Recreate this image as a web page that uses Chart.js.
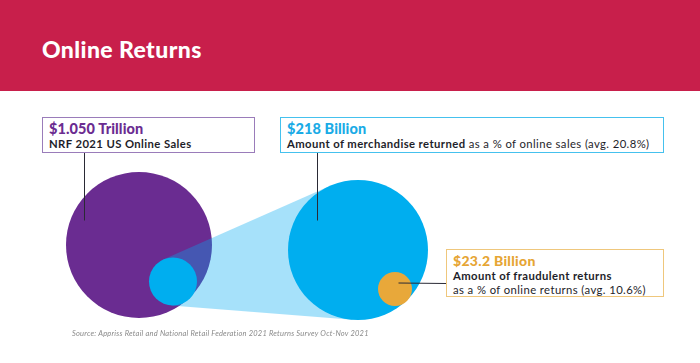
<!DOCTYPE html>
<html>
<head>
<meta charset="utf-8">
<script src="https://cdn.jsdelivr.net/npm/chart.js@4.4.0/dist/chart.umd.min.js"></script>
<style>
    html, body { margin: 0; padding: 0; background: #fff; }
    body { width: 700px; height: 363px; position: relative; overflow: hidden; font-family: Lato, "Open Sans", sans-serif; }
    #header { position: absolute; left: 0; top: 0; width: 700px; height: 91px; background: #c81f4b; }
    #title { position: absolute; left: 42px; top: 35px; color: #fff; font-size: 23px; font-weight: 900; letter-spacing: 0.4px; }
    #chart { position: absolute; left: 0; top: 0; }
    .box { position: absolute; box-sizing: border-box; background: #fff; padding: 2px 0 0 6px; white-space: nowrap; }
    .big { font-size: 14.5px; font-weight: 900; line-height: 17px; letter-spacing: 0.1px; }
    .sub { font-size: 11.3px; color: #1e1e2a; line-height: 14px; letter-spacing: 0.4px; }
    .sub b { font-weight: 700; }
    .src { position: absolute; left: 72px; top: 329px; font-size: 7.5px; font-style: italic; color: #8a8a8a; letter-spacing: 0.22px; }
</style>
</head>
<body>
<div id="header"></div>
<div id="title">Online Returns</div>
<canvas id="chart" width="700" height="363"></canvas>

<div class="box" id="box0" style="left:42px; top:117px; width:213px; height:36px; border:1.5px solid #9a7cba;">
    <div class="big" style="color:#6b2c91;"></div>
    <div class="sub"><b></b></div>
</div>
<div class="box" id="box1" style="left:280px; top:117px; width:384px; height:36px; border:1.5px solid #45c1ee;">
    <div class="big" style="color:#1aabe6;"></div>
    <div class="sub"><b></b> <span></span></div>
</div>
<div class="box" id="box2" style="left:446px; top:249px; width:218px; height:48px; border:1.5px solid #efc77c;">
    <div class="big" style="color:#e6a534; font-size:14px; letter-spacing:0.3px;"></div>
    <div class="sub" style="line-height:13.5px;"><b></b><br><span></span></div>
</div>
<div class="src">Source: Appriss Retail and National Retail Federation 2021 Returns Survey Oct-Nov 2021</div>

<script>
// Data
const categories = ['NRF 2021 US Online Sales', 'Amount of merchandise returned', 'Amount of fraudulent returns'];
const amounts = ['$1.050 Trillion', '$218 Billion', '$23.2 Billion'];
const amountBillions = [1050, 218, 23.2];
const shareNotes = ['', 'as a % of online sales (avg. 20.8%)', 'as a % of online returns (avg. 10.6%)'];

// Layout (page grid units, not data)
const circles = [
    { key: 'sales',    x: 139, y: 245, r: 73, color: '#6a2c91' },
    { key: 'inner',    x: 173, y: 281.5, r: 24, color: '#00aeef' },
    { key: 'returns',  x: 358, y: 250, r: 70, color: '#00aeef' },
    { key: 'fraud',    x: 395, y: 289, r: 17, color: '#e8a83a' }
];
const leaders = [
    [[84, 153], [84, 220]],
    [[317, 153], [317, 220]],
    [[398, 283], [446, 283]]
];

// fill the label boxes
for (let i = 0; i < 3; i++) {
    const box = document.getElementById('box' + i);
    box.querySelector('.big').textContent = amounts[i];
    box.querySelector('.sub b').textContent = categories[i];
    const s = box.querySelector('.sub span');
    if (s) s.textContent = shareNotes[i];
}

// external tangents between two circles, used for the "zoom" cone
function conePoints(a, b) {
    const dx = b.x - a.x, dy = b.y - a.y;
    const d = Math.hypot(dx, dy);
    const base = Math.atan2(dy, dx);
    const off = Math.acos((a.r - b.r) / d);
    const pts = [];
    [base + off, base - off].forEach(t => {
        pts.push([a.x + a.r * Math.cos(t), a.y + a.r * Math.sin(t)]);
        pts.push([b.x + b.r * Math.cos(t), b.y + b.r * Math.sin(t)]);
    });
    return [pts[0], pts[1], pts[3], pts[2]];
}

const conePlugin = {
    id: 'cone',
    beforeDatasetDraw(chart, args) {
        if (args.meta.label !== 'inner') return;
        const ctx = chart.ctx;
        const metas = chart.getSortedVisibleDatasetMetas();
        const find = k => metas.find(m => m.label === k).data[0];
        const a = find('inner'), b = find('returns');
        const p = conePoints({ x: a.x, y: a.y, r: a.options.radius }, { x: b.x, y: b.y, r: b.options.radius });
        ctx.save();
        ctx.fillStyle = 'rgba(0, 170, 240, 0.35)';
        ctx.beginPath();
        ctx.moveTo(p[0][0], p[0][1]);
        p.slice(1).forEach(q => ctx.lineTo(q[0], q[1]));
        ctx.closePath();
        ctx.fill();
        ctx.restore();
    },
    afterDatasetsDraw(chart) {
        const ctx = chart.ctx;
        const xs = chart.scales.x, ys = chart.scales.y;
        ctx.save();
        ctx.strokeStyle = '#2a2a35';
        ctx.lineWidth = 1;
        leaders.forEach(([s, e]) => {
            ctx.beginPath();
            ctx.moveTo(Math.round(xs.getPixelForValue(s[0])) + 0.5, ys.getPixelForValue(s[1]));
            ctx.lineTo(Math.round(xs.getPixelForValue(e[0])) + 0.5, Math.round(ys.getPixelForValue(e[1])) + 0.5);
            ctx.stroke();
        });
        ctx.restore();
    }
};

new Chart(document.getElementById('chart'), {
    type: 'bubble',
    data: {
        datasets: circles.map((c, i) => ({
            label: c.key,
            data: [{ x: c.x, y: c.y, r: c.r }],
            backgroundColor: c.color,
            borderWidth: 0,
            order: circles.length - i
        }))
    },
    options: {
        responsive: false,
        animation: false,
        events: [],
        layout: { padding: 0, autoPadding: false },
        plugins: { legend: { display: false }, tooltip: { enabled: false } },
        scales: {
            x: { type: 'linear', min: 0, max: 700, display: false },
            y: { type: 'linear', min: 0, max: 363, reverse: true, display: false }
        }
    },
    plugins: [conePlugin]
});
</script>
</body>
</html>
